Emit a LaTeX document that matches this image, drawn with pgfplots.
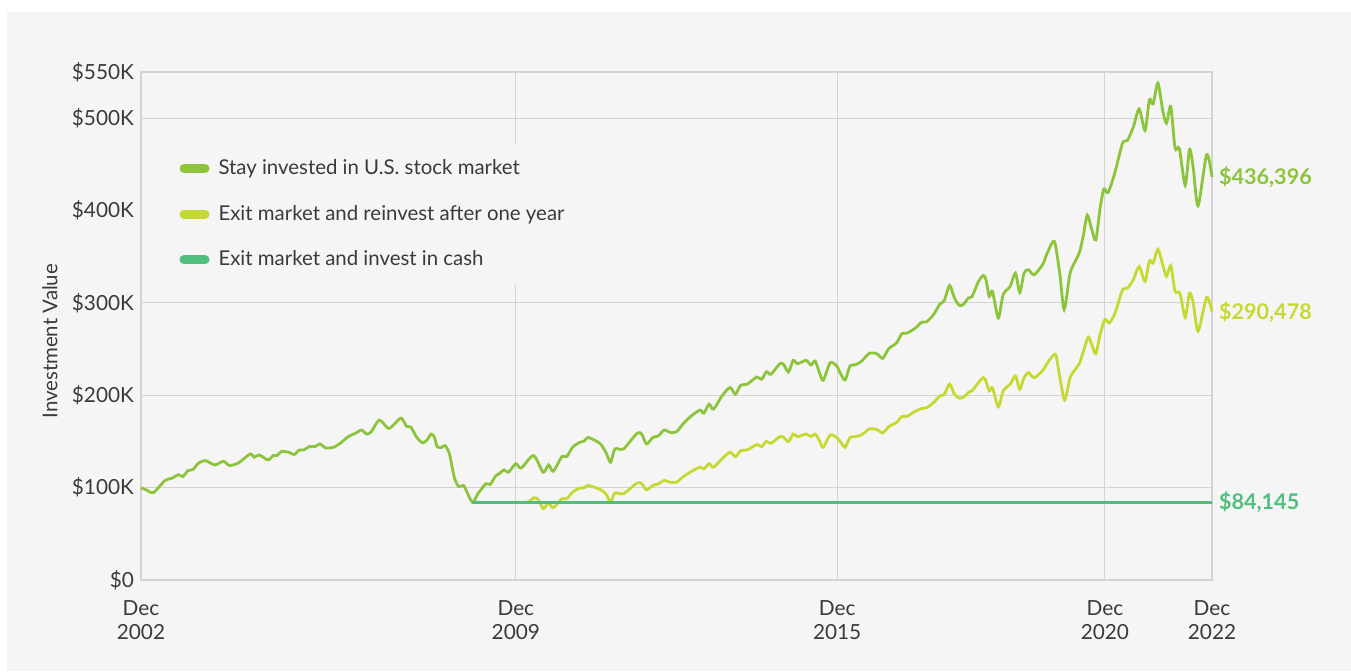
\documentclass[border=0pt]{standalone}
\usepackage{fontspec}
\setmainfont{Lato}
\usepackage{pgfplots}
\pgfplotsset{compat=1.18}
\definecolor{panel}{HTML}{F5F5F5}
\definecolor{gridc}{HTML}{D3D3D3}
\definecolor{stay}{HTML}{8CC43C}
\definecolor{reinv}{HTML}{C6D932}
\definecolor{cash}{HTML}{50BE7D}
\definecolor{txt}{HTML}{3A3A3A}
\begin{document}
\begin{tikzpicture}
\useasboundingbox (-70.5pt,-45.5pt) rectangle (605pt,290pt);
\fill[white] (-70.5pt,-45.5pt) rectangle (605pt,290pt);
\fill[panel] (-67pt,-45.5pt) rectangle (605pt,284pt);
\begin{axis}[
  at={(0pt,0pt)}, anchor=south west,
  scale only axis, width=535.5pt, height=254pt,
  xmin=0, xmax=20, ymin=0, ymax=550,
  clip=false,
  axis line style={draw=gridc, line width=0.6pt},
  major tick length=0pt,
  tick style={draw=none},
  xtick={0,7,13,18,20},
  xticklabels={{Dec\\2002},{Dec\\2009},{Dec\\2015},{Dec\\2020},{Dec\\2022}},
  xticklabel style={align=center, font=\fontsize{10.4}{12}\selectfont, text=txt, yshift=-7pt},
  xmajorgrids,
  ytick={0,100,200,300,400,500,550},
  yticklabels={\$0,\$100K,\$200K,\$300K,\$400K,\$500K,\$550K},
  yticklabel style={font=\fontsize{10.4}{12}\selectfont, text=txt},
  extra y ticks={100,200,300,500},
  extra y tick labels={},
  extra y tick style={ymajorgrids=true},
  grid style={draw=gridc, line width=0.5pt},
  ylabel={Investment Value},
  ylabel style={at={(axis description cs:-0.085,0.47)}, anchor=center, font=\fontsize{10.2}{12}\selectfont, text=txt},
  legend style={at={(axis description cs:0.03,0.86)}, anchor=north west, draw=none, fill=panel,
    font=\fontsize{10.2}{12}\selectfont, text=txt, row sep=9.8pt, inner xsep=3pt, inner ysep=6pt},
  legend cell align=left,
  legend image code/.code={\path[draw=none,fill=none] (0pt,0pt) rectangle (17.5pt,0pt);\draw[#1, line width=4.5pt, line cap=round] (2.25pt,0pt) -- (12.75pt,0pt);},
]
\addlegendimage{stay}
\addlegendentry{Stay invested in U.S. stock market}
\addlegendimage{reinv}
\addlegendentry{Exit market and reinvest after one year}
\addlegendimage{cash}
\addlegendentry{Exit market and invest in cash}

\addplot[reinv, line width=1.4pt, smooth, tension=0.45, forget plot] coordinates {
(6.19,84.1)(7.17,84.1)(7.33,89.1)(7.42,87)(7.51,77.3)(7.61,83.3)(7.70,78.3)(7.86,88)(7.95,88)
(8.06,95.2)(8.19,99.5)(8.28,99.8)(8.35,102.4)(8.57,98.1)(8.68,93.4)(8.77,84.4)(8.85,94.1)(9.01,93.4)
(9.26,104.9)(9.35,104.3)(9.44,97.7)(9.56,102.4)(9.66,104)(9.77,107.8)(9.88,105.9)(10.0,105.9)
(10.13,112.1)(10.28,117.5)(10.44,122.1)(10.51,120.4)(10.61,125.8)(10.69,122.1)(10.86,131.8)
(11.0,138.3)(11.10,133.6)(11.20,140.1)(11.32,140.8)(11.50,146.6)(11.59,144.4)(11.68,150.1)
(11.76,147.9)(11.93,155.2)(12.0,154.5)(12.09,149.8)(12.18,158)(12.26,155.2)(12.42,158)
(12.51,155.2)(12.59,158)(12.67,150.8)(12.74,143.7)(12.87,157)(12.99,154.4)(13.07,149)
(13.15,143.7)(13.24,154.4)(13.34,155.2)(13.46,157.3)(13.60,163.5)(13.74,163)(13.85,159.2)
(13.96,165.9)(14.11,170.6)(14.21,177.1)(14.30,177)(14.45,182.4)(14.58,185.7)(14.67,186.5)
(14.80,192.1)(14.92,199.4)(15.0,201)(15.10,212)(15.19,201.2)(15.28,196.9)(15.36,198)(15.45,203)
(15.52,205)(15.64,213.7)(15.73,219.1)(15.78,215)(15.84,204.7)(15.90,208)(16.01,187.5)
(16.10,204.7)(16.23,212)(16.33,220.9)(16.41,206.6)(16.49,219.1)(16.57,224.5)(16.68,219.1)
(16.84,227)(16.95,237.1)(17.04,243.5)(17.09,242.5)(17.17,215.5)(17.25,194.7)(17.35,219.1)
(17.46,229.2)(17.53,235.2)(17.61,249.7)(17.69,262.9)(17.76,254)(17.83,245)(17.91,265.8)
(18.0,282)(18.08,278.3)(18.19,289.1)(18.33,314.3)(18.42,316)(18.53,325.1)(18.64,339.4)
(18.75,323.3)(18.83,345.6)(18.90,343)(18.99,358.1)(19.08,341.3)(19.15,328.7)(19.23,340.5)
(19.31,312.5)(19.40,310.7)(19.50,284.5)(19.58,310.7)(19.65,299.9)(19.74,269.4)(19.90,306)
(20.0,290.5)};

\addplot[stay, line width=1.4pt, smooth, tension=0.45, forget plot] coordinates {
(0,100)(0.12,97)(0.23,94.5)(0.45,107.8)(0.57,110)(0.70,114)(0.78,112)(0.88,118.5)(0.97,119.5)
(1.07,126.4)(1.2,129.3)(1.38,124.6)(1.54,128.6)(1.65,124)(1.82,126.8)(2.04,136.5)(2.11,132.9)
(2.21,135.4)(2.37,130)(2.47,134.7)(2.54,134.7)(2.63,139.3)(2.78,137.9)(2.86,135.8)(2.96,140.8)
(3.04,140.8)(3.14,144.4)(3.25,144.4)(3.34,147.3)(3.45,143)(3.59,143.6)(3.72,148)(3.87,155.2)
(4.0,158.7)(4.12,162.4)(4.21,158)(4.30,160.5)(4.45,173.2)(4.62,164.1)(4.74,169.5)(4.86,175.3)
(4.96,166.3)(5.04,165.5)(5.15,154.4)(5.26,148.4)(5.34,151.5)(5.42,158)(5.48,154.5)(5.53,144.4)
(5.61,143.5)(5.68,145.5)(5.76,136.5)(5.85,111.3)(5.93,101.3)(6.02,102.4)(6.08,96.2)(6.19,84.1)
(6.30,94.1)(6.44,104.2)(6.52,103.5)(6.63,113.1)(6.70,115.6)(6.78,119.3)(6.86,116.7)(7.0,125.8)
(7.1,121.2)(7.33,134.7)(7.51,116.7)(7.61,124.6)(7.70,117.8)(7.86,133.6)(7.95,133.6)(8.06,143.7)
(8.19,149)(8.28,150.5)(8.35,154.4)(8.57,147.9)(8.68,138.3)(8.77,127.5)(8.85,141.9)(9.01,141.9)
(9.26,158.7)(9.35,158)(9.44,147.3)(9.56,154.4)(9.66,156)(9.77,162.4)(9.88,159.8)(10.0,160.5)
(10.13,169.5)(10.28,177.8)(10.44,183.9)(10.51,180.7)(10.61,190.4)(10.69,185)(10.86,200.1)
(11.0,208.3)(11.10,201.2)(11.20,210.9)(11.32,212)(11.50,219.8)(11.59,217.3)(11.68,225.5)
(11.76,222.7)(11.93,234.2)(12.0,233.5)(12.09,225.2)(12.18,237.8)(12.26,234.2)(12.42,237.8)
(12.51,232.8)(12.59,237.1)(12.67,224.5)(12.74,216.3)(12.87,235.2)(12.99,231.7)(13.07,222.7)
(13.15,216.6)(13.24,231.7)(13.34,233)(13.46,237.1)(13.60,245.4)(13.74,245)(13.85,240)
(13.96,250.3)(14.11,256.8)(14.21,266.9)(14.30,267.2)(14.45,272.3)(14.58,279.1)(14.67,279.5)
(14.80,287.4)(14.92,298.8)(15.0,302.5)(15.10,319)(15.19,305.3)(15.28,297.4)(15.36,298.5)
(15.45,305.3)(15.52,307)(15.64,323.3)(15.73,329.7)(15.78,325)(15.84,307.1)(15.90,312.5)
(16.01,283.7)(16.10,308.9)(16.23,317.9)(16.33,332.2)(16.41,311.4)(16.49,332.2)(16.57,335.9)
(16.68,330.5)(16.84,341.9)(16.91,352)(17.01,364.6)(17.07,364.6)(17.16,330.5)(17.24,292.8)
(17.35,332.2)(17.46,346.6)(17.53,355.6)(17.60,373.6)(17.67,395.1)(17.75,380.7)(17.83,368.2)
(17.91,402.3)(17.98,423.2)(18.06,419.5)(18.19,441.8)(18.33,473.1)(18.42,475.9)(18.53,490.3)
(18.64,510)(18.75,486.7)(18.83,520)(18.90,515.4)(18.99,538)(19.08,508.2)(19.15,494.6)
(19.23,512.6)(19.31,467.7)(19.39,466.9)(19.50,427.5)(19.58,466.2)(19.65,446.1)(19.74,405.2)
(19.90,460.5)(20.0,436.4)};

\addplot[cash, line width=1.4pt, forget plot] coordinates {(6.19,84.145)(20,84.145)};

\node[anchor=west, text=stay, font=\bfseries\fontsize{10.8}{12}\selectfont] at (axis cs:20,436.4) {\$436,396};
\node[anchor=west, text=reinv, font=\bfseries\fontsize{10.8}{12}\selectfont] at (axis cs:20,290.5) {\$290,478};
\node[anchor=west, text=cash, font=\bfseries\fontsize{10.8}{12}\selectfont] at (axis cs:20,84.145) {\$84,145};
\end{axis}
\end{tikzpicture}
\end{document}
